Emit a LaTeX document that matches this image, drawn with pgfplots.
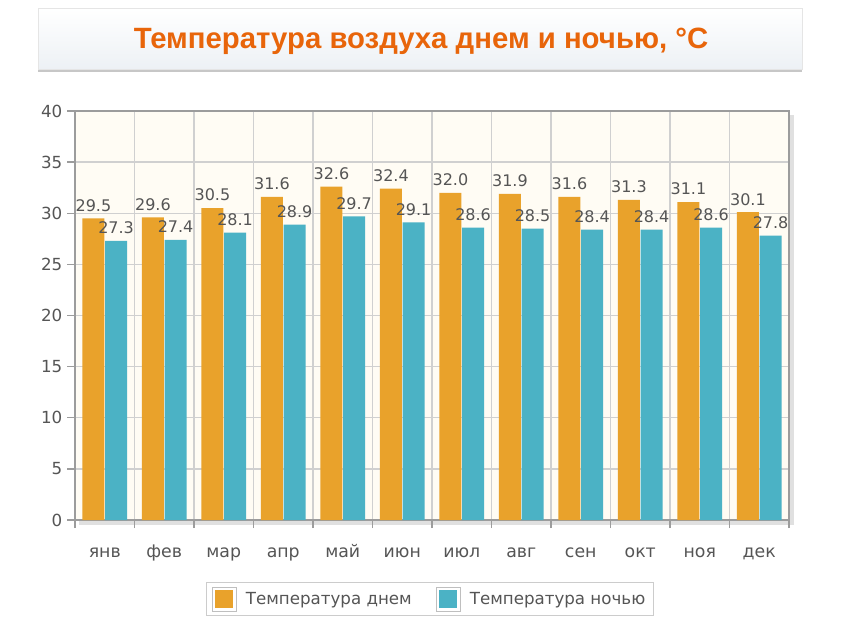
\documentclass[border=0pt]{standalone}
\usepackage{fontspec}
\setmainfont{DejaVu Sans}
\newfontfamily\titlefont{Liberation Sans}
\usepackage{pgfplots}
\pgfplotsset{compat=1.18}
\definecolor{dayc}{HTML}{E9A22B}
\definecolor{nightc}{HTML}{4BB2C5}
\definecolor{txt}{HTML}{555555}
\definecolor{ttl}{HTML}{E8650A}
\definecolor{plotbg}{HTML}{FFFCF4}
\definecolor{gridc}{HTML}{D0D0D0}
\definecolor{framec}{HTML}{9C9C9C}
\definecolor{boxbot}{HTML}{EDF1F5}
\begin{document}
\begin{tikzpicture}[x=0.75pt,y=0.75pt]
\useasboundingbox (0,0) rectangle (842,629);
% title box
\fill[black!22] (38,629-72) rectangle (802,629-10);
\shade[top color=white, bottom color=boxbot, draw=black!10] (38,629-8) rectangle (802,629-69);
\node[font=\titlefont\bfseries\fontsize{22}{26}\selectfont, text=ttl] at (421,629-41) {Температура воздуха днем и ночью, °С};
% frame shadow (right and bottom)
\draw[black!12, line width=2.5pt] (792,629-115) -- (792,629-523) -- (79,629-523);
\begin{axis}[
  at={(56.25pt,81.75pt)}, anchor=south west,
  width=535.5pt, height=306.75pt, scale only axis,
  xmin=-0.5, xmax=11.5, ymin=0, ymax=40,
  ybar=0.5pt, bar width=0.37,
  xtick={0,...,11},
  xticklabels={янв,фев,мар,апр,май,июн,июл,авг,сен,окт,ноя,дек},
  minor xtick={-0.5,0.5,...,11.5},
  ytick={0,5,...,40},
  xtick pos=bottom, ytick pos=left,
  ymajorgrids, xminorgrids,
  grid style={gridc, line width=1pt},
  minor grid style={gridc, line width=1pt},
  axis background/.style={fill=plotbg},
  axis line style={framec, line width=2pt},
  tick style={framec, line width=1pt},
  major x tick style={draw=none},
  tick align=outside, major tick length=6pt, minor tick length=6pt,
  tick label style={font=\fontsize{12.5}{14}\selectfont, text=txt},
  xticklabel style={font=\fontsize{13}{15}\selectfont, text height=1.8ex, text depth=0.5ex, yshift=-9pt},
  /pgf/number format/assume math mode=true,
  nodes near coords={\pgfmathprintnumber[fixed,fixed zerofill,precision=1]{\pgfplotspointmeta}},
  nodes near coords style={font=\fontsize{12}{13}\selectfont, text=txt, inner sep=1pt, yshift=4pt},
  legend columns=2,
  legend style={at={(0.497,-0.152)}, anchor=north, draw=black!20, line width=0.8pt,
    font=\fontsize{12.5}{15}\selectfont, text=txt, inner xsep=4pt, inner ysep=3pt,
    /tikz/every odd column/.append style={column sep=5pt},
    /tikz/every even column/.append style={column sep=16pt}},
]
\addplot[fill=dayc, draw=none,
  legend image code/.code={\draw[black!25, line width=0.6pt, fill=white] (0pt,-9pt) rectangle (18pt,9pt); \fill[dayc] (2pt,-7pt) rectangle (16pt,7pt);}]
  coordinates {(0,29.5) (1,29.6) (2,30.5) (3,31.6) (4,32.6) (5,32.4) (6,32.0) (7,31.9) (8,31.6) (9,31.3) (10,31.1) (11,30.1)};
\addlegendentry{Температура днем}
\addplot[fill=nightc, draw=none,
  legend image code/.code={\draw[black!25, line width=0.6pt, fill=white] (0pt,-9pt) rectangle (18pt,9pt); \fill[nightc] (2pt,-7pt) rectangle (16pt,7pt);}]
  coordinates {(0,27.3) (1,27.4) (2,28.1) (3,28.9) (4,29.7) (5,29.1) (6,28.6) (7,28.5) (8,28.4) (9,28.4) (10,28.6) (11,27.8)};
\addlegendentry{Температура ночью}
\end{axis}
\end{tikzpicture}
\end{document}
